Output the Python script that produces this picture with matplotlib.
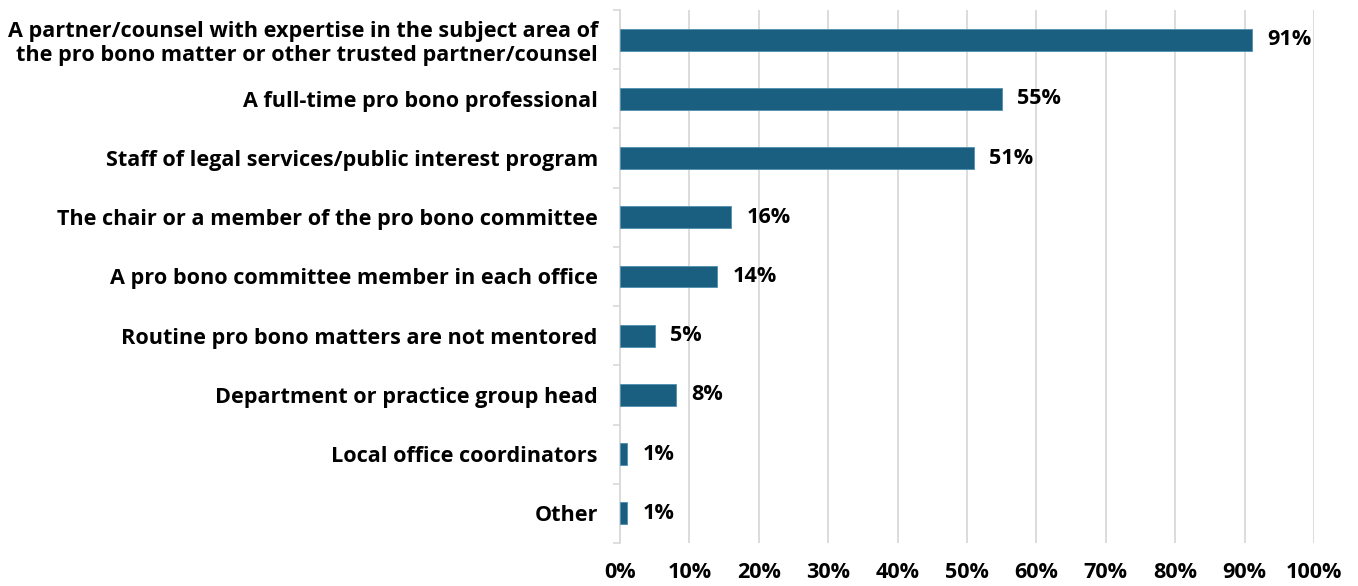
import matplotlib.pyplot as plt
import numpy as np

# values (percent of respondents)
categories = [
	"A partner/counsel with expertise in the subject area of\nthe pro bono matter or other trusted partner/counsel",
	"A full-time pro bono professional",
	"Staff of legal services/public interest program",
	"The chair or a member of the pro bono committee",
	"A pro bono committee member in each office",
	"Routine pro bono matters are not mentored",
	"Department or practice group head",
	"Local office coordinators",
	"Other",
]
values = [91, 55, 51, 16, 14, 5, 8, 1, 1]
x_ticks = [0, 10, 20, 30, 40, 50, 60, 70, 80, 90, 100]
x_tick_labels = [f"{t}%" for t in x_ticks]

plt.rcParams['font.family'] = ['Open Sans', 'DejaVu Sans']
plt.rcParams['font.weight'] = 'bold'

bar_color = "#1B5F80"
grid_color = "#D9D9D9"
fs = 15.6

fig = plt.figure(figsize=(13.58, 5.86), dpi=100)
ax = fig.add_axes([0.4566, 0.0734, 0.5110, 0.9096])

y = np.arange(len(categories))
ax.barh(y, values, height=0.37, color=bar_color, edgecolor="#4F8FAF", linewidth=0.6, zorder=3)

for yi, v in zip(y, values):
	ax.text(v + 2.2, yi, f"{v}%", va="center", ha="left", fontsize=fs, fontweight="bold", color="black")

ax.set_xlim(0, 100)
ax.set_ylim(len(categories) - 0.5, -0.5)
ax.set_xticks(x_ticks)
ax.set_xticklabels(x_tick_labels, fontsize=fs, fontweight="bold")
ax.set_yticks(y)
ax.set_yticklabels(categories, fontsize=fs, fontweight="bold", linespacing=1.2)
ax.set_yticks(np.arange(-0.5, len(categories)), minor=True)

ax.tick_params(axis="y", which="major", length=0, pad=16)
ax.tick_params(axis="y", which="minor", length=5, color=grid_color, width=1.2)
ax.tick_params(axis="x", length=0, pad=14)

ax.xaxis.grid(True, color=grid_color, linewidth=1.3, zorder=0)
ax.set_axisbelow(True)

for side in ["top", "right", "bottom"]:
	ax.spines[side].set_visible(False)
ax.spines["left"].set_color(grid_color)
ax.spines["left"].set_linewidth(1.3)

fig.savefig("out.png", dpi=100)
